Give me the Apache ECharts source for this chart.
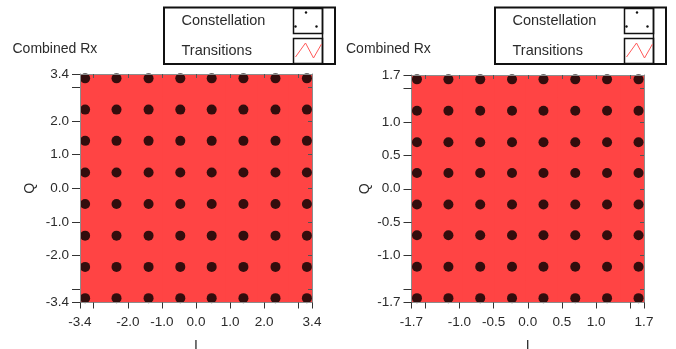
<!DOCTYPE html>
<html>
<head>
<meta charset="utf-8">
<script src="https://cdn.jsdelivr.net/npm/echarts@6/dist/echarts.min.js"></script>
<style>
  html, body { margin: 0; padding: 0; background: #fff; }
  #chart { width: 676px; height: 349px; }
</style>
</head>
<body>
<div id="chart"></div>
<script>
// 64-QAM symbol levels (I columns, Q rows) for the two receivers
const I_LEVELS_A = [-3.25, -2.33, -1.39, -0.46, 0.46, 1.39, 2.33, 3.25];
const Q_LEVELS_A = [-3.27, -2.34, -1.41, -0.47, 0.47, 1.41, 2.34, 3.27];
const I_LEVELS_B = [-1.62, -1.16, -0.695, -0.23, 0.23, 0.695, 1.16, 1.62];
const Q_LEVELS_B = [-1.635, -1.165, -0.695, -0.235, 0.235, 0.695, 1.165, 1.635];

// symbol-to-symbol transition route, as [column, row] indices
const TRANSITION_PATH = [
  [0,0],[7,0],[7,1],[0,1],[0,2],[7,2],[7,3],[0,3],
  [0,4],[7,4],[7,5],[0,5],[0,6],[7,6],[7,7],[0,7],
  [0,0],[1,0],[1,7],[2,7],[2,0],[3,0],[3,7],[4,7],
  [4,0],[5,0],[5,7],[6,7],[6,0],[7,0],[7,7]
];

// axis ranges, tick marks and labelled ticks
const RANGE_A = [-3.4, 3.4];
const RANGE_B = [-1.7, 1.7];
const TICKS_A = [-3.4, -3, -2, -1, 0, 1, 2, 3, 3.4];
const LABELS_A = [-3.4, -2, -1, 0, 1, 2, 3.4];
const INNER_TICKS_A = [-3, -2, -1, 0, 1, 2, 3];
const TICKS_B = [-1.7, -1.5, -1, -0.5, 0, 0.5, 1, 1.5, 1.7];
const LABELS_B = [-1.7, -1, -0.5, 0, 0.5, 1, 1.7];
const INNER_TICKS_B = [-1.5, -1, -0.5, 0, 0.5, 1, 1.5];

const TITLE = 'Combined Rx';
const LEGEND_ITEMS = ['Constellation', 'Transitions'];

const RED = '#ff4444';
const FONT = '"Liberation Sans", Arial, sans-serif';
const TEXT_COLOR = '#2b2b2b';
const FRAME = '#8c8c8c';
const TRACE_WIDTH = 36;

function constellation(iLv, qLv) {
  const pts = [];
  qLv.forEach(q => iLv.forEach(i => pts.push([i, q])));
  return pts;
}
// one item per transition: [I from, Q from, I to, Q to]
function transitions(iLv, qLv) {
  const segs = [];
  for (let k = 1; k < TRANSITION_PATH.length; k++) {
    const [c0, r0] = TRANSITION_PATH[k - 1];
    const [c1, r1] = TRANSITION_PATH[k];
    segs.push([iLv[c0], qLv[r0], iLv[c1], qLv[r1]]);
  }
  return segs;
}
function renderTransition(params, api) {
  const a = api.coord([api.value(0), api.value(1)]);
  const b = api.coord([api.value(2), api.value(3)]);
  return {
    type: 'line',
    shape: { x1: a[0], y1: a[1], x2: b[0], y2: b[1] },
    style: { stroke: RED, lineWidth: TRACE_WIDTH, lineCap: 'square', fill: null }
  };
}

function axisPair(gridIndex, range, ticks, labels, inner, dim) {
  const main = {
    gridIndex, type: 'value', min: range[0], max: range[1], z: 10,
    axisLine: { show: true, onZero: false, lineStyle: { color: FRAME, width: 1 } },
    splitLine: { show: false },
    axisTick: { show: true, customValues: ticks, length: dim === 'x' ? 6 : 8,
                lineStyle: { color: '#333', width: 1 } },
    axisLabel: { show: true, customValues: labels, margin: dim === 'x' ? 13 : 11,
                 formatter: v => v.toFixed(1), color: TEXT_COLOR,
                 fontFamily: FONT, fontSize: 13.5 },
    name: dim === 'x' ? 'I' : 'Q', nameLocation: 'middle',
    nameGap: dim === 'x' ? 37 : (gridIndex === 0 ? 43 : 39.5),
    nameRotate: dim === 'x' ? 0 : 90,
    nameTextStyle: { color: TEXT_COLOR, fontFamily: FONT, fontSize: 14 }
  };
  const mirror = {
    gridIndex, type: 'value', min: range[0], max: range[1], z: 10,
    position: dim === 'x' ? 'top' : 'right',
    axisLine: { show: true, onZero: false, lineStyle: { color: FRAME, width: 1 } },
    splitLine: { show: false },
    axisTick: { show: true, inside: true, customValues: inner, length: 4,
                lineStyle: { color: '#555', width: 1 } },
    axisLabel: { show: false }
  };
  return [main, mirror];
}

function legendBox(x0) {
  const y0 = 7.5, w = 171, h = 56.5, ix = x0 + 129.5;
  return [
    { type: 'rect', z: 20, shape: { x: x0, y: y0, width: w, height: h },
      style: { fill: '#fff', stroke: '#111', lineWidth: 2 } },
    { type: 'line', z: 21, shape: { x1: ix + 29, y1: y0, x2: ix + 29, y2: y0 + h },
      style: { stroke: '#111', lineWidth: 1.5 } },
    { type: 'rect', z: 21, shape: { x: ix, y: 8.5, width: 29, height: 25 },
      style: { fill: 'none', stroke: '#111', lineWidth: 1.5 } },
    { type: 'rect', z: 21, shape: { x: ix, y: 38.5, width: 29, height: 25 },
      style: { fill: 'none', stroke: '#111', lineWidth: 1.5 } },
    { type: 'circle', z: 22, shape: { cx: ix + 12.5, cy: 12.5, r: 1.2 }, style: { fill: '#111' } },
    { type: 'circle', z: 22, shape: { cx: ix + 2, cy: 26.5, r: 1.2 }, style: { fill: '#111' } },
    { type: 'circle', z: 22, shape: { cx: ix + 23, cy: 26.5, r: 1.2 }, style: { fill: '#111' } },
    { type: 'polyline', z: 22,
      shape: { points: [[ix + 2, 57], [ix + 12, 43], [ix + 20, 58], [ix + 28, 44]] },
      style: { fill: 'none', stroke: '#ff5a5a', lineWidth: 1 } },
    { type: 'text', z: 22, x: x0 + 17.5, y: 20.7,
      style: { text: LEGEND_ITEMS[0], fill: TEXT_COLOR, font: '14.5px ' + FONT,
               verticalAlign: 'middle' } },
    { type: 'text', z: 22, x: x0 + 17.5, y: 50.7,
      style: { text: LEGEND_ITEMS[1], fill: TEXT_COLOR, font: '14.5px ' + FONT,
               verticalAlign: 'middle' } }
  ];
}

const chart = echarts.init(document.getElementById('chart'), null, { renderer: 'canvas' });

const option = {
  animation: false,
  backgroundColor: '#fff',
  grid: [
    { left: 80, top: 74, width: 232, height: 228.5, outerBoundsMode: 'none', containLabel: false },
    { left: 411.5, top: 75, width: 232.5, height: 227.5, outerBoundsMode: 'none', containLabel: false }
  ],
  xAxis: [
    ...axisPair(0, RANGE_A, TICKS_A, LABELS_A, INNER_TICKS_A, 'x'),
    ...axisPair(1, RANGE_B, TICKS_B, LABELS_B, INNER_TICKS_B, 'x')
  ],
  yAxis: [
    ...axisPair(0, RANGE_A, TICKS_A, LABELS_A, INNER_TICKS_A, 'y'),
    ...axisPair(1, RANGE_B, TICKS_B, LABELS_B, INNER_TICKS_B, 'y')
  ],
  series: [
    { name: 'Transitions', type: 'custom', xAxisIndex: 0, yAxisIndex: 0, clip: true, z: 2,
      data: transitions(I_LEVELS_A, Q_LEVELS_A), renderItem: renderTransition },
    { name: 'Constellation', type: 'scatter', xAxisIndex: 0, yAxisIndex: 0,
      data: constellation(I_LEVELS_A, Q_LEVELS_A), symbol: 'circle', symbolSize: 10, z: 3,
      itemStyle: { color: '#000' } },
    { name: 'Transitions', type: 'custom', xAxisIndex: 2, yAxisIndex: 2, clip: true, z: 2,
      data: transitions(I_LEVELS_B, Q_LEVELS_B), renderItem: renderTransition },
    { name: 'Constellation', type: 'scatter', xAxisIndex: 2, yAxisIndex: 2,
      data: constellation(I_LEVELS_B, Q_LEVELS_B), symbol: 'circle', symbolSize: 10, z: 3,
      itemStyle: { color: '#000' } }
  ],
  graphic: [
    { type: 'text', x: 12.5, y: 49,
      style: { text: TITLE, fill: TEXT_COLOR, font: '14px ' + FONT, verticalAlign: 'middle' } },
    { type: 'text', x: 346, y: 49,
      style: { text: TITLE, fill: TEXT_COLOR, font: '14px ' + FONT, verticalAlign: 'middle' } },
    ...legendBox(164),
    ...legendBox(495)
  ]
};

chart.setOption(option);
</script>
</body>
</html>
